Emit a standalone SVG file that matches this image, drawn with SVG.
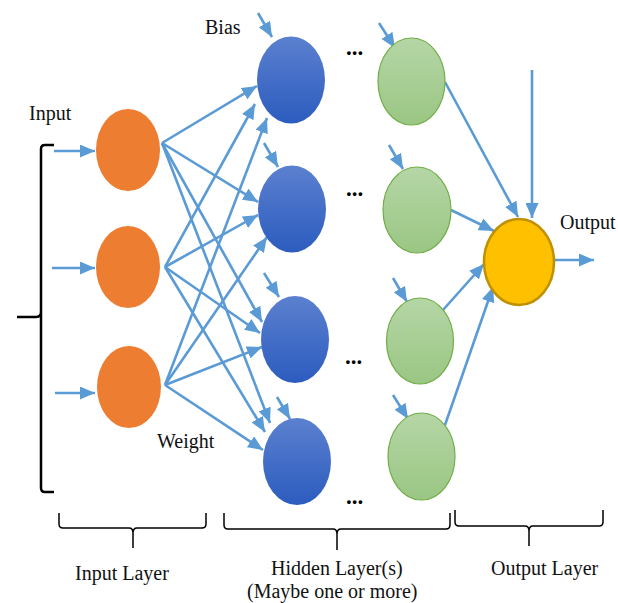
<svg xmlns="http://www.w3.org/2000/svg" width="618" height="603" viewBox="0 0 618 603">
  <style>
    .lbl { font-family: "Liberation Serif", "Times New Roman", serif; font-size: 20px; fill: #111; }
    .dots { font-family: "Liberation Serif", serif; font-size: 23px; font-weight: bold; fill: #000; }
    .wire { stroke: #5B9BD5; stroke-width: 2.6; fill: none; marker-end: url(#arrow); }
    .brace { stroke: #000; fill: none; stroke-linejoin: round; }
    .inp { fill: #ED7D31; }
    .hid { fill: url(#blueGrad); }
    .hid2 { fill: url(#greenGrad); stroke: #70AD47; stroke-width: 1.2; }
    .out { fill: #FFC000; stroke: #BF9000; stroke-width: 2.5; }
  </style>
  <defs>
    <marker id="arrow" markerUnits="userSpaceOnUse" markerWidth="15" markerHeight="13" refX="15" refY="6.5" orient="auto">
      <path d="M0,0 L15,6.5 L0,13 z" fill="#5B9BD5"/>
    </marker>
    <linearGradient id="blueGrad" x1="0" y1="0" x2="0" y2="1">
      <stop offset="0" stop-color="#5B80CF"/>
      <stop offset="1" stop-color="#2C5CBF"/>
    </linearGradient>
    <linearGradient id="greenGrad" x1="0" y1="0" x2="0" y2="1">
      <stop offset="0" stop-color="#B5D6A6"/>
      <stop offset="1" stop-color="#9AC683"/>
    </linearGradient>
  </defs>

  <rect width="618" height="603" fill="#fff"/>

  <!-- connectors -->
  <g id="connectors">
    <!-- inputs -->
    <line class="wire" x1="54" y1="151" x2="95" y2="151"/>
    <line class="wire" x1="52" y1="268" x2="95" y2="268"/>
    <line class="wire" x1="55" y1="393" x2="95" y2="393"/>
    <!-- input layer to first hidden layer -->
    <line class="wire" x1="162" y1="143" x2="257" y2="86"/>
    <line class="wire" x1="162" y1="143" x2="258" y2="202"/>
    <line class="wire" x1="162" y1="143" x2="262" y2="322"/>
    <line class="wire" x1="162" y1="143" x2="270" y2="423"/>
    <line class="wire" x1="165" y1="267" x2="255" y2="104"/>
    <line class="wire" x1="165" y1="267" x2="258" y2="215"/>
    <line class="wire" x1="165" y1="267" x2="260" y2="333"/>
    <line class="wire" x1="165" y1="267" x2="265" y2="432"/>
    <line class="wire" x1="165" y1="385" x2="267" y2="118"/>
    <line class="wire" x1="165" y1="385" x2="267" y2="237"/>
    <line class="wire" x1="165" y1="385" x2="262" y2="347"/>
    <line class="wire" x1="165" y1="385" x2="263" y2="450"/>
    <!-- bias inputs -->
    <line class="wire" x1="258" y1="13" x2="272" y2="37"/>
    <line class="wire" x1="264" y1="143" x2="278" y2="167"/>
    <line class="wire" x1="264" y1="273" x2="279" y2="297"/>
    <line class="wire" x1="277" y1="397" x2="290" y2="419"/>
    <line class="wire" x1="379" y1="23" x2="395" y2="48"/>
    <line class="wire" x1="389" y1="145" x2="403" y2="169"/>
    <line class="wire" x1="393" y1="278" x2="407" y2="302"/>
    <line class="wire" x1="393" y1="395" x2="408" y2="419"/>
    <!-- last hidden layer to output -->
    <line class="wire" x1="445" y1="82" x2="518" y2="217"/>
    <line class="wire" x1="451" y1="210" x2="494" y2="231"/>
    <line class="wire" x1="443" y1="310" x2="484" y2="264"/>
    <line class="wire" x1="445" y1="425" x2="493" y2="287"/>
    <line class="wire" x1="532" y1="70" x2="532" y2="218"/>
    <line class="wire" x1="554" y1="260" x2="594" y2="260"/>
  </g>

  <!-- input layer -->
  <g id="input1"><ellipse class="inp" cx="128" cy="150" rx="32" ry="41"/></g>
  <g id="input2"><ellipse class="inp" cx="128" cy="267" rx="32" ry="41"/></g>
  <g id="input3"><ellipse class="inp" cx="129" cy="387" rx="32" ry="41"/></g>

  <!-- first hidden layer -->
  <g id="hidden1"><ellipse class="hid" cx="291" cy="80" rx="34" ry="43.5"/></g>
  <g id="hidden2"><ellipse class="hid" cx="292" cy="209" rx="34" ry="43.5"/></g>
  <g id="hidden3"><ellipse class="hid" cx="295" cy="339.5" rx="34" ry="43.5"/></g>
  <g id="hidden4"><ellipse class="hid" cx="297" cy="461.5" rx="34" ry="43.5"/></g>

  <!-- last hidden layer -->
  <g id="last1"><ellipse class="hid2" cx="411.5" cy="81.5" rx="33.5" ry="43.5"/></g>
  <g id="last2"><ellipse class="hid2" cx="417" cy="210" rx="34" ry="43"/></g>
  <g id="last3"><ellipse class="hid2" cx="420" cy="341" rx="33.5" ry="43"/></g>
  <g id="last4"><ellipse class="hid2" cx="421.5" cy="456.5" rx="33.5" ry="43.5"/></g>

  <!-- output -->
  <g id="output"><ellipse class="out" cx="519" cy="262" rx="35" ry="43"/></g>

  <!-- ellipsis between hidden layers -->
  <g id="ellipsis">
    <text class="dots" x="346" y="55">...</text>
    <text class="dots" x="346" y="196">...</text>
    <text class="dots" x="345" y="364">...</text>
    <text class="dots" x="346" y="504">...</text>
  </g>

  <!-- brackets -->
  <g id="brackets">
    <path class="brace" stroke-width="2.5" d="M54,145 L45,145 Q41,145 41,149 L41,312 Q41,317 36,317 L17,317 M41,312 Q41,317 41,322 L41,488 Q41,492 45,492 L54,492"/>
    <path class="brace" stroke-width="1.5" d="M59,513 L59,524 Q59,528 63,528 L129,528 Q133,528 133,533 L133,548 M133,533 Q133,528 137,528 L202,528 Q206,528 206,524 L206,513"/>
    <path class="brace" stroke-width="1.5" d="M224,513 L224,525 Q224,529 228,529 L333,529 Q337,529 337,534 L337,550 M337,534 Q337,529 341,529 L446,529 Q450,529 450,525 L450,513"/>
    <path class="brace" stroke-width="1.5" d="M455,510 L455,522 Q455,526 459,526 L525,526 Q529,526 529,531 L529,546 M529,531 Q529,526 533,526 L599,526 Q603,526 603,522 L603,510"/>
  </g>

  <!-- labels -->
  <g id="labels">
    <text class="lbl" x="205" y="34">Bias</text>
    <text class="lbl" x="29" y="120">Input</text>
    <text class="lbl" x="157" y="448">Weight</text>
    <text class="lbl" x="560" y="229">Output</text>
    <text class="lbl" x="75" y="580">Input Layer</text>
    <text class="lbl" x="271" y="575">Hidden Layer(s)</text>
    <text class="lbl" x="247" y="598">(Maybe one or more)</text>
    <text class="lbl" x="491" y="575">Output Layer</text>
  </g>
</svg>
